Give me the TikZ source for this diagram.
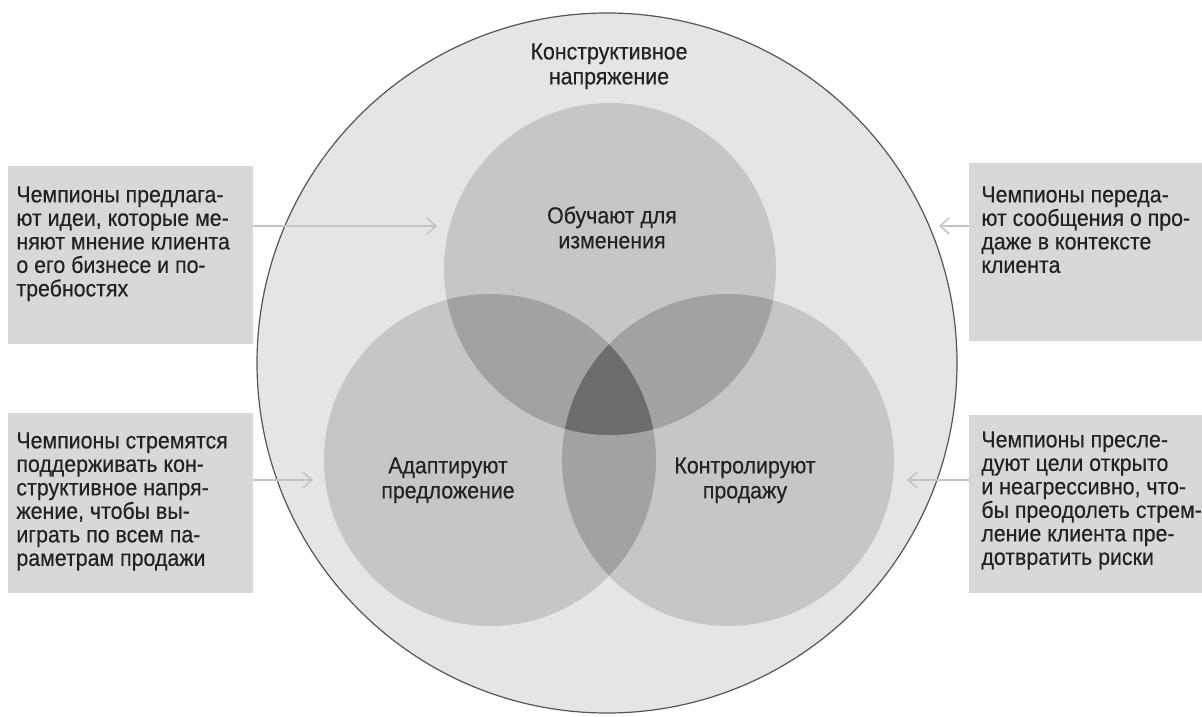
\documentclass[tikz,border=0pt]{standalone}
\usepackage{fontspec}
\setmainfont[FakeStretch=0.92,FakeBold=0.4]{Liberation Sans}
\usetikzlibrary{arrows.meta}
\definecolor{bgc}{HTML}{E5E5E5}
\definecolor{ringc}{HTML}{555555}
\definecolor{onec}{HTML}{C6C6C6}
\definecolor{twoc}{HTML}{A2A2A2}
\definecolor{threec}{HTML}{6C6C6C}
\definecolor{boxc}{HTML}{D8D8D8}
\definecolor{arrc}{HTML}{C4C4C4}
\definecolor{txtc}{HTML}{222222}
\tikzset{
  box/.style={rectangle, fill=boxc, draw=none, inner sep=0pt},
  boxtext/.style={anchor=north west, inner sep=0pt, align=left, text=txtc,
    font=\fontsize{11.6}{11.75}\selectfont},
  ctext/.style={anchor=north, inner sep=0pt, align=center, text=txtc,
    font=\fontsize{11.6}{12.5}\selectfont},
  arr/.style={draw=arrc, line width=0.75pt, -{Straight Barb[length=4.5pt,width=8pt]}},
}
\begin{document}
\begin{tikzpicture}[x=0.5pt,y=-0.5pt]
\useasboundingbox[fill=white] (0,0) rectangle (1202,716);
% big circle
\path[fill=bgc, draw=ringc, line width=0.6pt] (607,363) circle[radius=175pt];
% boxes
\node[box, minimum width=122.5pt, minimum height=89pt] (bl1) at (130.5,255) {};
\node[box, minimum width=122.5pt, minimum height=90pt] (bl2) at (130.5,503) {};
\node[box, minimum width=116.5pt, minimum height=89pt] (br1) at (1085.5,252) {};
\node[box, minimum width=116.5pt, minimum height=89pt] (br2) at (1085.5,504) {};
% arrows
\coordinate (t1) at (437,226);
\coordinate (t2) at (313,480);
\coordinate (t3) at (939,226);
\coordinate (t4) at (907,480);
\draw[arr] (bl1.east |- t1) -- (t1);
\draw[arr] (bl2.east |- t2) -- (t2);
\draw[arr] (br1.west |- t3) -- (t3);
\draw[arr] (br2.west |- t4) -- (t4);
% venn circles
\coordinate (cT) at (610,269);
\coordinate (cL) at (490,460);
\coordinate (cR) at (728,460);
\fill[onec] (cT) circle[radius=83pt];
\fill[onec] (cL) circle[radius=83pt];
\fill[onec] (cR) circle[radius=83pt];
\begin{scope}
  \clip (cT) circle[radius=83pt];
  \fill[twoc] (cL) circle[radius=83pt];
  \fill[twoc] (cR) circle[radius=83pt];
\end{scope}
\begin{scope}
  \clip (cL) circle[radius=83pt];
  \fill[twoc] (cR) circle[radius=83pt];
\end{scope}
\begin{scope}
  \clip (cT) circle[radius=83pt];
  \clip (cL) circle[radius=83pt];
  \fill[threec] (cR) circle[radius=83pt];
\end{scope}
% texts
\node[ctext] (ktitle) at (609,43) {Конструктивное\\напряжение};
\node[ctext] (ttop) at (612,206) {Обучают для\\изменения};
\node[ctext] (tleft) at (448,457) {Адаптируют\\предложение};
\node[ctext] (tright) at (745,457) {Контролируют\\продажу};
\node[boxtext] (x1) at (16,186) {Чемпионы предлага-\\ют идеи, которые ме-\\няют мнение клиента\\о его бизнесе и по-\\требностях};
\node[boxtext] (x2) at (16,432) {Чемпионы стремятся\\поддерживать кон-\\структивное напря-\\жение, чтобы вы-\\играть по всем па-\\раметрам продажи};
\node[boxtext] (x3) at (981,186) {Чемпионы переда-\\ют сообщения о про-\\даже в контексте\\клиента};
\node[boxtext] (x4) at (981,431) {Чемпионы пресле-\\дуют цели открыто\\и неагрессивно, что-\\бы преодолеть стрем-\\ление клиента пре-\\дотвратить риски};
\end{tikzpicture}
\end{document}
